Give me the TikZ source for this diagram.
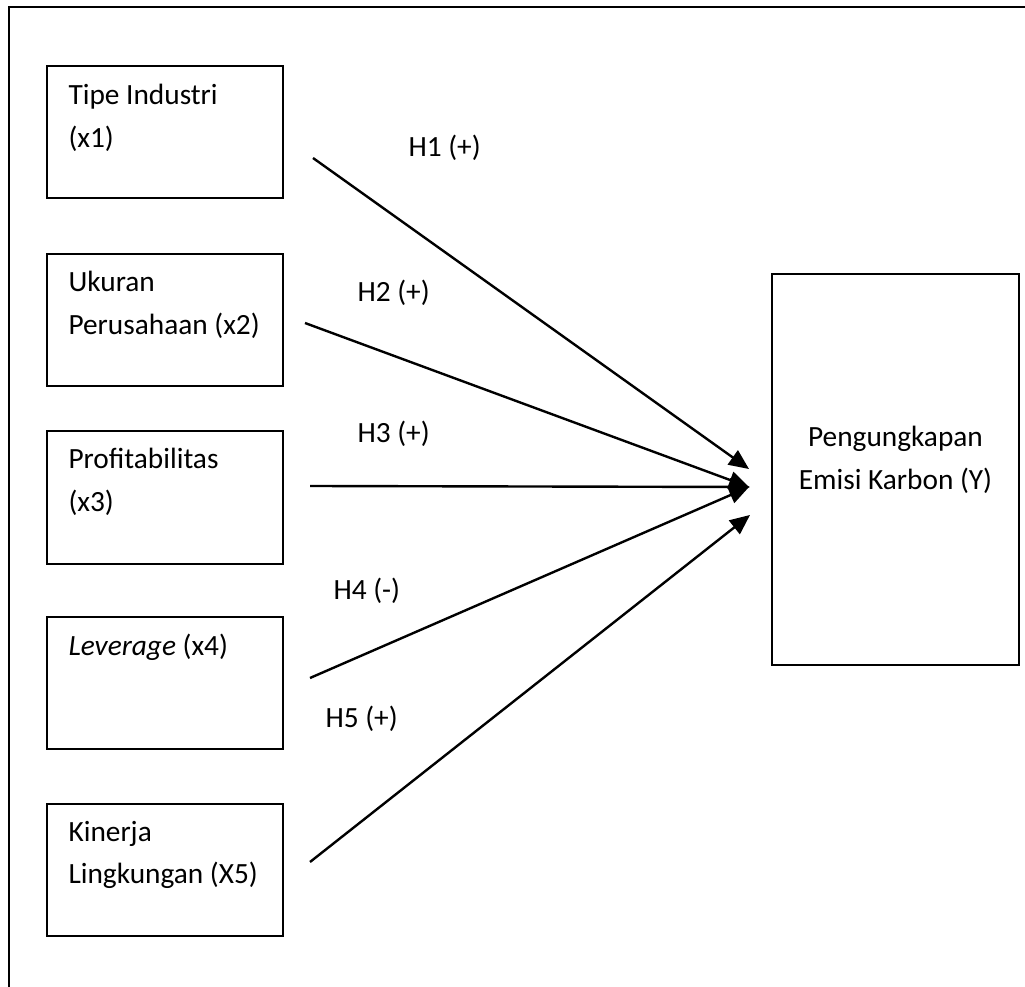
\documentclass[tikz,border=0pt]{standalone}
\usepackage{fontspec}
\setmainfont{Carlito}
\usetikzlibrary{arrows.meta}
\tikzset{
  varbox/.style={shape=rectangle,draw,line width=0.75pt,minimum width=88.5pt,minimum height=49.5pt,inner sep=0pt,outer sep=0pt},
  vartext/.style={anchor=base west,inner sep=0pt,text width=80pt,align=flush left,font=\fontsize{11}{16}\selectfont},
  hyplabel/.style={anchor=base west,inner sep=0pt,font=\fontsize{11}{16}\selectfont},
  hyparrow/.style={line width=0.9pt,-{Triangle[length=7.5pt,width=6.5pt]}}
}
\begin{document}
\begin{tikzpicture}[x=0.375pt,y=-0.375pt]
    \useasboundingbox (0,0) rectangle (1025,987);
    \draw[line width=0.75pt] (9,987) -- (9,7) -- (1025,7);
    \node[varbox] (x1box) at (165,132) {};
    \node[varbox] (x2box) at (165,320) {};
    \node[varbox] (x3box) at (165,497.5) {};
    \node[varbox] (x4box) at (165,682.5) {};
    \node[varbox] (x5box) at (165,869.5) {};
    \node[varbox,minimum width=92.6pt,minimum height=146.6pt] (ybox) at (895.5,469.5) {};
    \node[vartext] (x1text) at (68,105) {Tipe Industri\\(x1)};
    \node[vartext] (x2text) at (68,292) {Ukuran\\Perusahaan (x2)};
    \node[vartext] (x3text) at (68,469) {Profitabilitas\\(x3)};
    \node[vartext] (x4text) at (68,655) {\textit{Leverage} (x4)};
    \node[vartext] (x5text) at (68,841) {Kinerja\\Lingkungan (X5)};
    \node[vartext,anchor=base,text width=90pt,align=flush center] (ytext) at (895.5,447) {Pengungkapan\\Emisi Karbon (Y)};
    % hypothesis arrows
    \coordinate (s1) at (313,158);
    \coordinate (s2) at (305,323);
    \coordinate (s3) at (310,486);
    \coordinate (s4) at (310,678);
    \coordinate (s5) at (310,862);
    \coordinate (t1) at (749,469);
    \coordinate (t2) at (749,487);
    \coordinate (t3) at (750,487);
    \coordinate (t4) at (749,487);
    \coordinate (t5) at (750,515);
    \draw[hyparrow] (s1) -- (t1);
    \draw[hyparrow] (s2) -- (t2);
    \draw[hyparrow] (s3) -- (t3);
    \draw[hyparrow] (s4) -- (t4);
    \draw[hyparrow] (s5) -- (t5);
    \node[hyplabel] (h1) at (408,157) {H1 (+)};
    \node[hyplabel] (h2) at (357,302) {H2 (+)};
    \node[hyplabel] (h3) at (357,443) {H3 (+)};
    \node[hyplabel] (h4) at (333,599) {H4 (-)};
    \node[hyplabel] (h5) at (325,727) {H5 (+)};
\end{tikzpicture}
\end{document}
